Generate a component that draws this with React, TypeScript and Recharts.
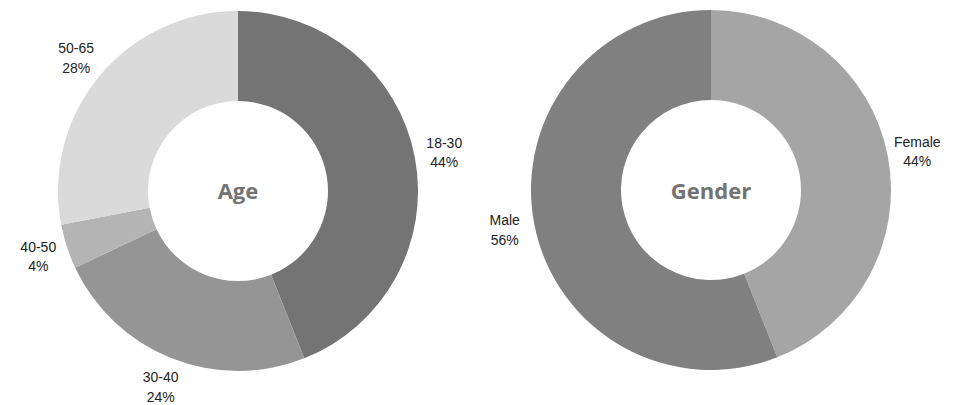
import { Cell, Pie, PieChart } from "recharts";

const ageNames = ["18-30", "30-40", "40-50", "50-65"];
const ageValues = [44, 24, 4, 28];
const ageColors = ["#747474", "#959595", "#b4b4b4", "#dadada"];

const genderNames = ["Female", "Male"];
const genderValues = [44, 56];
const genderColors = ["#a5a5a5", "#808080"];

const RAD = Math.PI / 180;

const ageData = ageNames.map((name, i) => ({ name, value: ageValues[i] }));
const genderData = genderNames.map((name, i) => ({ name, value: genderValues[i] }));

function renderLabel(props: any) {
  const { cx, cy, midAngle, name, value } = props;
  const r = 210;
  const x = cx + r * Math.cos(-midAngle * RAD);
  const y = cy + r * Math.sin(-midAngle * RAD);
  return (
    <text
      x={x}
      y={y}
      textAnchor="middle"
      fill="#222222"
      fontSize={14}
      fontFamily="'Liberation Sans', Arial, sans-serif"
    >
      <tspan x={x} dy={-4}>{name}</tspan>
      <tspan x={x} dy={19.5}>{`${value}%`}</tspan>
    </text>
  );
}

const titleStyle = {
  fill: "#737373",
  fontSize: 22,
  fontWeight: 700,
  fontFamily: "'Open Sans', sans-serif",
};

export default function App() {
  return (
    <div style={{ position: "absolute", left: 0, top: 0, background: "#fff" }}>
      <PieChart width={957} height={405} margin={{ top: 0, right: 0, bottom: 0, left: 0 }}>
        <Pie
          data={ageData}
          dataKey="value"
          nameKey="name"
          cx={238}
          cy={191}
          innerRadius={90}
          outerRadius={180}
          startAngle={90}
          endAngle={-270}
          stroke="none"
          labelLine={false}
          label={renderLabel}
          isAnimationActive={false}
        >
          {ageData.map((d, i) => (
            <Cell key={d.name} fill={ageColors[i]} />
          ))}
        </Pie>
        <Pie
          data={genderData}
          dataKey="value"
          nameKey="name"
          cx={711}
          cy={190}
          innerRadius={90}
          outerRadius={180}
          startAngle={90}
          endAngle={-270}
          stroke="none"
          labelLine={false}
          label={renderLabel}
          isAnimationActive={false}
        >
          {genderData.map((d, i) => (
            <Cell key={d.name} fill={genderColors[i]} />
          ))}
        </Pie>
        <text x={238} y={199} textAnchor="middle" style={titleStyle}>
          Age
        </text>
        <text x={711} y={199} textAnchor="middle" style={titleStyle}>
          Gender
        </text>
      </PieChart>
    </div>
  );
}
